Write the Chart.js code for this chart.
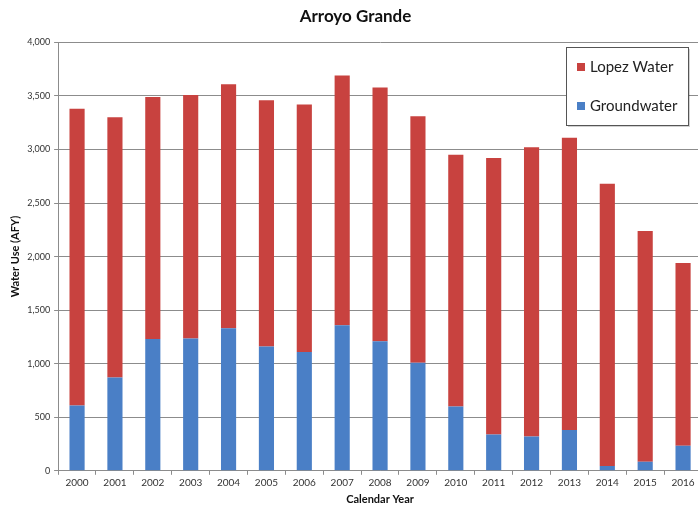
<!DOCTYPE html>
<html>
<head>
<meta charset="utf-8">
<title>Arroyo Grande</title>
<script src="https://cdn.jsdelivr.net/npm/chart.js@4/dist/chart.umd.min.js"></script>
<style>
  html, body { margin: 0; padding: 0; background: #fff; overflow: hidden; }
  #wrap { width: 702px; height: 508px; }
</style>
</head>
<body>
<div id="wrap"><canvas id="waterChart"></canvas></div>
<script>
// Water use by source, acre-feet per year
const years = ["2000", "2001", "2002", "2003", "2004", "2005", "2006", "2007", "2008",
  "2009", "2010", "2011", "2012", "2013", "2014", "2015", "2016"];
const groundwater = [610, 870, 1230, 1235, 1330, 1160, 1110, 1360, 1210,
  1010, 600, 340, 320, 380, 45, 85, 235];
const lopezWater = [2770, 2430, 2260, 2275, 2280, 2300, 2310, 2330, 2370,
  2300, 2350, 2580, 2700, 2730, 2635, 2155, 1705];
const yTicks = [0, 500, 1000, 1500, 2000, 2500, 3000, 3500, 4000];

const red = "#c8423f";
const blue = "#4a7fc6";
const gridGray = "#8c8c8c";
const font = "Lato, 'Open Sans', sans-serif";

// Boxed legend sitting inside the plot, top right
const boxLegend = {
  id: "boxLegend",
  afterDraw(chart) {
    const ctx = chart.ctx;
    const x = 566, y = 47, w = 122, h = 78;
    ctx.save();
    ctx.fillStyle = "rgba(0,0,0,0.18)";
    ctx.fillRect(x + 2, y + 2, w, h);
    ctx.fillStyle = "#fff";
    ctx.fillRect(x, y, w, h);
    ctx.strokeStyle = "#555";
    ctx.lineWidth = 1;
    ctx.strokeRect(x + 0.5, y + 0.5, w, h);
    const items = [chart.data.datasets[1], chart.data.datasets[0]];
    ctx.font = "15px " + font;
    ctx.textBaseline = "middle";
    items.forEach((ds, i) => {
      const cy = y + 20 + i * 39;
      ctx.fillStyle = ds.backgroundColor;
      ctx.fillRect(x + 11, cy - 4, 8, 8);
      ctx.fillStyle = "#222";
      ctx.fillText(ds.label, x + 24, cy);
    });
    ctx.restore();
  }
};

const ctx = document.getElementById("waterChart").getContext("2d");
new Chart(ctx, {
  type: "bar",
  data: {
    labels: years,
    datasets: [
      {
        label: "Groundwater",
        data: groundwater,
        backgroundColor: blue,
        barPercentage: 0.8,
        categoryPercentage: 0.5
      },
      {
        label: "Lopez Water",
        data: lopezWater,
        backgroundColor: red,
        barPercentage: 0.8,
        categoryPercentage: 0.5
      }
    ]
  },
  options: {
    responsive: true,
    maintainAspectRatio: false,
    animation: false,
    layout: { padding: { left: 9, right: 0, top: 6, bottom: 2 } },
    plugins: {
      legend: { display: false },
      tooltip: { enabled: false },
      title: {
        display: true,
        text: "Arroyo Grande",
        color: "#111",
        font: { family: font, size: 17, weight: "bold" },
        padding: { top: 0, bottom: 16 }
      }
    },
    scales: {
      x: {
        stacked: true,
        grid: {
          display: true,
          offset: true,
          drawOnChartArea: false,
          drawTicks: true,
          tickLength: 4,
          color: gridGray
        },
        border: { color: gridGray },
        ticks: { color: "#333", font: { family: font, size: 10 }, padding: 2, maxRotation: 0 },
        title: {
          display: true,
          text: "Calendar Year",
          color: "#111",
          font: { family: font, size: 11, weight: "bold" },
          padding: { top: 2, bottom: 0 }
        }
      },
      y: {
        stacked: true,
        min: 0,
        max: 4000,
        afterBuildTicks: axis => {
          axis.ticks = yTicks.map(v => ({ value: v }));
        },
        grid: { color: gridGray, tickLength: 4 },
        border: { color: gridGray },
        ticks: {
          color: "#333",
          font: { family: font, size: 9 },
          padding: 4,
          callback: value => value.toLocaleString("en-US")
        },
        title: {
          display: true,
          text: "Water Use (AFY)",
          color: "#111",
          font: { family: font, size: 11, weight: "bold" },
          padding: { top: 0, bottom: 1 }
        }
      }
    }
  },
  plugins: [boxLegend]
});
</script>
</body>
</html>
